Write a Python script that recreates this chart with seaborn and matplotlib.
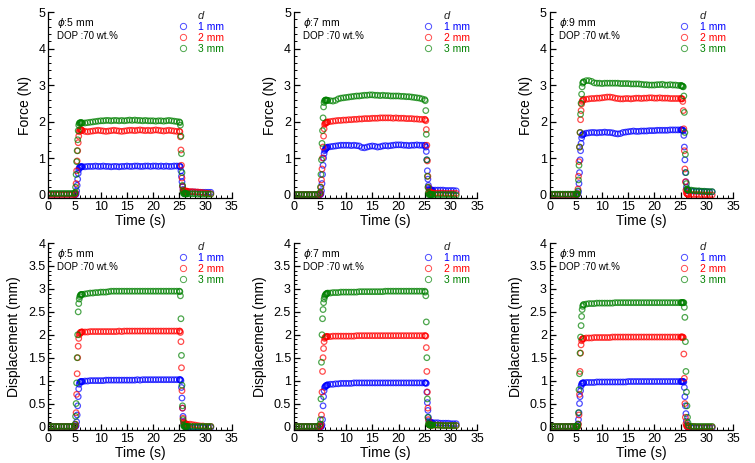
import numpy as np
import pandas as pd
import matplotlib
matplotlib.use("Agg")
import matplotlib.pyplot as plt
from matplotlib.ticker import MultipleLocator
from matplotlib.lines import Line2D
import seaborn as sns

sns.set_theme(style="ticks")
plt.rcParams['font.family'] = ['Liberation Sans', 'DejaVu Sans']
plt.rcParams['mathtext.fontset'] = 'dejavusans'

# ---------------- data ----------------
# time grid (s): baseline, rise, plateau, fall, tail
t_base = [0.0, 0.5, 1.0, 1.5, 2.0, 2.5, 3.0, 3.5, 4.0, 4.5]
t_rise = [5.0, 5.1, 5.2, 5.3, 5.4, 5.5, 5.6, 5.7, 5.8, 5.9, 6.0, 6.1, 6.2, 6.3, 6.4]
t_plat = [6.5, 7.0, 7.5, 8.0, 8.5, 9.0, 9.5, 10.0, 10.5, 11.0, 11.5, 12.0, 12.5,
          13.0, 13.5, 14.0, 14.5, 15.0, 15.5, 16.0, 16.5, 17.0, 17.5, 18.0, 18.5,
          19.0, 19.5, 20.0, 20.5, 21.0, 21.5, 22.0, 22.5, 23.0, 23.5, 24.0, 24.5]
t_fall = [25.0, 25.1, 25.2, 25.3, 25.4, 25.5, 25.6, 25.7, 25.8, 25.9, 26.0, 26.1, 26.2, 26.3, 26.4]
t_tail = [26.5, 27.0, 27.5, 28.0, 28.5, 29.0, 29.5, 30.0, 30.5, 31.0]

depths = ["1 mm", "2 mm", "3 mm"]
diameters = ["5", "7", "9"]

# ---- Force, phi 5 mm ----
F5_1 = ([0.01]*10,
        [0.0, 0.0, 0.0, 0.02, 0.1, 0.25, 0.42, 0.58, 0.68, 0.73, 0.75, 0.76, 0.76, 0.76, 0.76],
        [0.76, 0.76, 0.77, 0.77, 0.77, 0.78, 0.77, 0.77, 0.78, 0.77, 0.77, 0.76, 0.77, 0.77, 0.76, 0.77, 0.77, 0.78, 0.77,
         0.77, 0.78, 0.78, 0.77, 0.77, 0.78, 0.78, 0.77, 0.78, 0.78, 0.77, 0.78, 0.77, 0.78, 0.77, 0.77, 0.78, 0.78],
        [0.78, 0.77, 0.76, 0.65, 0.5, 0.35, 0.22, 0.14, 0.1, 0.09, 0.08, 0.08, 0.08, 0.08, 0.07],
        [0.07, 0.07, 0.07, 0.07, 0.06, 0.06, 0.06, 0.06, 0.06, 0.06])
F5_2 = ([0.0]*10,
        [0.0, 0.0, 0.05, 0.3, 0.65, 0.92, 1.2, 1.42, 1.6, 1.72, 1.76, 1.78, 1.78, 1.77, 1.76],
        [1.75, 1.73, 1.72, 1.73, 1.74, 1.75, 1.76, 1.75, 1.74, 1.73, 1.74, 1.75, 1.76, 1.75, 1.74, 1.73, 1.74, 1.75, 1.76,
         1.76, 1.75, 1.76, 1.77, 1.76, 1.75, 1.76, 1.75, 1.76, 1.77, 1.76, 1.75, 1.74, 1.75, 1.76, 1.75, 1.74, 1.73],
        [1.73, 1.72, 1.58, 1.22, 0.8, 0.45, 0.22, 0.12, 0.1, 0.1, 0.1, 0.09, 0.09, 0.09, 0.09],
        [0.09, 0.08, 0.08, 0.07, 0.07, 0.06, 0.05, 0.04, 0.03, 0.02])
F5_3 = ([0.03]*10,
        [0.03, 0.05, 0.2, 0.55, 0.9, 1.2, 1.5, 1.75, 1.9, 1.95, 1.96, 1.97, 1.97, 1.96, 1.96],
        [1.96, 1.96, 1.97, 1.98, 1.99, 2.0, 2.01, 2.02, 2.02, 2.03, 2.03, 2.02, 2.03, 2.03, 2.02, 2.03, 2.02, 2.03, 2.04,
         2.03, 2.04, 2.03, 2.03, 2.02, 2.03, 2.02, 2.02, 2.02, 2.01, 2.02, 2.02, 2.01, 2.02, 2.03, 2.02, 2.01, 2.0],
        [1.99, 1.97, 1.9, 1.6, 1.12, 0.6, 0.25, 0.08, 0.03, 0.02, 0.02, 0.02, 0.02, 0.02, 0.02],
        [0.02, 0.02, 0.02, 0.02, 0.01, 0.01, 0.01, 0.01, 0.01, 0.01])

# ---- Force, phi 7 mm ----
F7_1 = ([0.0]*10,
        [0.0, 0.0, 0.02, 0.1, 0.3, 0.55, 0.8, 1.0, 1.12, 1.2, 1.23, 1.25, 1.27, 1.28, 1.29],
        [1.3, 1.31, 1.32, 1.33, 1.34, 1.35, 1.35, 1.35, 1.35, 1.34, 1.35, 1.34, 1.33, 1.29, 1.28, 1.3, 1.32, 1.33, 1.32,
         1.3, 1.31, 1.33, 1.34, 1.33, 1.34, 1.35, 1.36, 1.36, 1.36, 1.35, 1.35, 1.34, 1.35, 1.35, 1.36, 1.35, 1.35],
        [1.35, 1.34, 1.3, 1.18, 0.95, 0.65, 0.42, 0.25, 0.17, 0.14, 0.13, 0.12, 0.12, 0.12, 0.12],
        [0.12, 0.12, 0.12, 0.12, 0.12, 0.11, 0.11, 0.11, 0.11, 0.1])
F7_2 = ([0.0]*10,
        [0.0, 0.05, 0.2, 0.4, 0.7, 1.0, 1.3, 1.6, 1.8, 1.92, 1.95, 1.96, 1.97, 1.98, 1.98],
        [1.99, 2.0, 2.01, 2.02, 2.03, 2.03, 2.04, 2.04, 2.05, 2.05, 2.06, 2.06, 2.07, 2.07, 2.08, 2.08, 2.08, 2.09, 2.09,
         2.09, 2.1, 2.1, 2.1, 2.1, 2.1, 2.09, 2.1, 2.09, 2.09, 2.09, 2.08, 2.08, 2.08, 2.07, 2.07, 2.06, 2.06],
        [2.06, 2.05, 2.02, 1.78, 1.35, 0.92, 0.5, 0.2, 0.08, 0.05, 0.05, 0.05, 0.05, 0.04, 0.04],
        [0.04, 0.04, 0.04, 0.04, 0.04, 0.03, 0.03, 0.03, 0.03, 0.03])
F7_3 = ([0.0]*10,
        [0.05, 0.2, 0.55, 0.95, 1.4, 1.75, 2.1, 2.4, 2.52, 2.57, 2.58, 2.59, 2.59, 2.58, 2.58],
        [2.58, 2.57, 2.56, 2.58, 2.62, 2.64, 2.65, 2.66, 2.67, 2.68, 2.69, 2.7, 2.7, 2.71, 2.72, 2.72, 2.73, 2.73, 2.72,
         2.72, 2.71, 2.72, 2.71, 2.71, 2.7, 2.7, 2.7, 2.7, 2.69, 2.69, 2.68, 2.68, 2.67, 2.66, 2.65, 2.64, 2.62],
        [2.6, 2.57, 2.3, 1.65, 0.95, 0.5, 0.2, 0.05, 0.0, 0.0, 0.0, 0.0, 0.0, 0.0, 0.0],
        [0.0, 0.0, 0.0, 0.0, 0.0, 0.0, 0.0, 0.0, 0.0, -0.02])

# ---- Force, phi 9 mm ----
F9_1 = ([0.0]*10,
        [0.0, 0.0, 0.0, 0.0, 0.02, 0.08, 0.3, 0.6, 0.95, 1.2, 1.4, 1.55, 1.62, 1.64, 1.65],
        [1.66, 1.68, 1.69, 1.7, 1.7, 1.69, 1.7, 1.7, 1.71, 1.7, 1.7, 1.69, 1.67, 1.66, 1.67, 1.7, 1.71, 1.72, 1.73,
         1.74, 1.73, 1.73, 1.74, 1.74, 1.74, 1.75, 1.75, 1.75, 1.76, 1.76, 1.76, 1.76, 1.76, 1.77, 1.77, 1.77, 1.77],
        [1.77, 1.77, 1.77, 1.77, 1.76, 1.75, 1.62, 1.3, 0.95, 0.6, 0.35, 0.2, 0.13, 0.11, 0.1],
        [0.1, 0.1, 0.09, 0.09, 0.09, 0.08, 0.08, 0.08, 0.07, 0.07])
F9_2 = ([0.0]*10,
        [0.0, 0.0, 0.0, 0.02, 0.15, 0.5, 0.9, 1.3, 1.7, 2.05, 2.3, 2.48, 2.55, 2.58, 2.6],
        [2.6, 2.61, 2.62, 2.63, 2.63, 2.64, 2.64, 2.65, 2.66, 2.67, 2.67, 2.66, 2.64, 2.63, 2.62, 2.62, 2.63, 2.63, 2.62,
         2.63, 2.64, 2.64, 2.63, 2.64, 2.64, 2.65, 2.65, 2.64, 2.64, 2.65, 2.64, 2.64, 2.64, 2.63, 2.63, 2.63, 2.63],
        [2.63, 2.63, 2.62, 2.62, 2.55, 2.3, 1.8, 1.2, 0.7, 0.35, 0.12, 0.04, 0.02, 0.01, 0.0],
        [0.0, 0.0, 0.0, 0.0, 0.0, -0.01, -0.01, -0.01, -0.01, -0.01])
F9_3 = ([0.01]*10,
        [0.01, 0.01, 0.01, 0.02, 0.1, 0.4, 0.8, 1.3, 1.7, 2.2, 2.5, 2.75, 2.95, 3.05, 3.08],
        [3.09, 3.12, 3.12, 3.1, 3.06, 3.05, 3.05, 3.04, 3.05, 3.05, 3.05, 3.05, 3.05, 3.05, 3.04, 3.04, 3.04, 3.04, 3.03,
         3.03, 3.03, 3.03, 3.02, 3.01, 3.01, 3.0, 3.0, 3.0, 3.01, 3.01, 3.02, 3.0, 3.0, 3.01, 3.0, 3.0, 2.99],
        [2.99, 2.98, 2.98, 2.97, 2.96, 2.95, 2.7, 2.25, 1.7, 1.1, 0.6, 0.3, 0.15, 0.13, 0.12],
        [0.12, 0.12, 0.11, 0.1, 0.1, 0.09, 0.09, 0.08, 0.08, 0.08])

# ---- Displacement, phi 5 mm ----
D5_1 = ([0.0]*10,
        [0.0, 0.0, 0.0, 0.02, 0.1, 0.25, 0.45, 0.65, 0.82, 0.92, 0.96, 0.97, 0.98, 0.98, 0.98],
        [0.98, 0.99, 0.99, 1.0, 1.0, 1.0, 1.0, 1.0, 1.0, 1.01, 1.01, 1.01, 1.01, 1.01, 1.01, 1.01, 1.01, 1.01, 1.01,
         1.01, 1.01, 1.02, 1.01, 1.02, 1.02, 1.02, 1.02, 1.02, 1.02, 1.02, 1.02, 1.02, 1.02, 1.02, 1.02, 1.02, 1.02],
        [1.02, 1.02, 1.02, 1.0, 0.85, 0.62, 0.4, 0.22, 0.1, 0.05, 0.02, 0.0, -0.01, -0.01, -0.02],
        [-0.02, -0.02, -0.02, -0.02, -0.02, -0.02, -0.02, -0.02, -0.02, -0.02])
D5_2 = ([0.0]*10,
        [0.0, 0.0, 0.05, 0.3, 0.7, 1.15, 1.5, 1.75, 1.92, 2.0, 2.03, 2.05, 2.05, 2.06, 2.06],
        [2.06, 2.06, 2.06, 2.07, 2.07, 2.07, 2.07, 2.07, 2.07, 2.07, 2.07, 2.07, 2.07, 2.07, 2.08, 2.07, 2.08, 2.08, 2.08,
         2.08, 2.08, 2.08, 2.08, 2.08, 2.08, 2.08, 2.08, 2.08, 2.08, 2.08, 2.08, 2.08, 2.08, 2.08, 2.08, 2.08, 2.08],
        [2.08, 2.08, 2.05, 1.85, 1.28, 0.78, 0.4, 0.18, 0.1, 0.07, 0.06, 0.05, 0.05, 0.05, 0.05],
        [0.05, 0.05, 0.04, 0.03, 0.02, 0.01, 0.01, 0.0, 0.0, 0.0])
D5_3 = ([0.0]*10,
        [0.0, 0.05, 0.22, 0.5, 0.95, 1.5, 2.0, 2.5, 2.68, 2.78, 2.83, 2.86, 2.87, 2.88, 2.88],
        [2.88, 2.89, 2.9, 2.91, 2.91, 2.92, 2.92, 2.93, 2.93, 2.93, 2.94, 2.95, 2.95, 2.95, 2.95, 2.95, 2.95, 2.95, 2.95,
         2.95, 2.95, 2.95, 2.95, 2.95, 2.95, 2.95, 2.95, 2.95, 2.95, 2.95, 2.95, 2.95, 2.95, 2.95, 2.95, 2.95, 2.95],
        [2.95, 2.94, 2.85, 2.35, 1.55, 0.9, 0.45, 0.15, 0.03, 0.0, 0.0, 0.0, 0.0, 0.0, 0.0],
        [0.0, 0.0, 0.0, 0.0, 0.0, 0.0, 0.0, 0.0, 0.0, 0.0])

# ---- Displacement, phi 7 mm ----
D7_1 = ([0.0]*10,
        [0.0, 0.0, 0.0, 0.0, 0.03, 0.15, 0.45, 0.65, 0.78, 0.85, 0.87, 0.88, 0.89, 0.9, 0.9],
        [0.91, 0.92, 0.92, 0.93, 0.93, 0.94, 0.94, 0.94, 0.94, 0.94, 0.95, 0.95, 0.95, 0.95, 0.95, 0.95, 0.95, 0.95, 0.95,
         0.95, 0.95, 0.95, 0.95, 0.95, 0.95, 0.95, 0.95, 0.95, 0.95, 0.95, 0.95, 0.95, 0.95, 0.95, 0.95, 0.95, 0.95],
        [0.95, 0.95, 0.95, 0.94, 0.75, 0.52, 0.35, 0.2, 0.12, 0.09, 0.08, 0.08, 0.08, 0.08, 0.08],
        [0.08, 0.08, 0.08, 0.07, 0.07, 0.07, 0.07, 0.06, 0.06, 0.06])
D7_2 = ([0.0]*10,
        [0.0, 0.0, 0.05, 0.25, 0.75, 1.2, 1.5, 1.7, 1.85, 1.92, 1.94, 1.95, 1.96, 1.96, 1.96],
        [1.96, 1.96, 1.97, 1.97, 1.97, 1.97, 1.97, 1.97, 1.97, 1.97, 1.97, 1.98, 1.98, 1.98, 1.98, 1.98, 1.98, 1.98, 1.98,
         1.98, 1.98, 1.98, 1.98, 1.98, 1.98, 1.98, 1.98, 1.98, 1.98, 1.98, 1.98, 1.98, 1.98, 1.98, 1.98, 1.98, 1.98],
        [1.98, 1.98, 1.97, 1.72, 1.2, 0.75, 0.4, 0.15, 0.05, 0.03, 0.03, 0.03, 0.03, 0.03, 0.03],
        [0.03, 0.03, 0.03, 0.03, 0.02, 0.02, 0.02, 0.02, 0.02, 0.02])
D7_3 = ([0.0]*10,
        [0.05, 0.15, 0.6, 1.4, 2.0, 2.35, 2.55, 2.7, 2.78, 2.83, 2.86, 2.88, 2.89, 2.9, 2.9],
        [2.91, 2.91, 2.92, 2.92, 2.92, 2.93, 2.93, 2.93, 2.93, 2.93, 2.93, 2.93, 2.94, 2.94, 2.94, 2.94, 2.94, 2.94, 2.94,
         2.94, 2.94, 2.94, 2.95, 2.95, 2.95, 2.95, 2.95, 2.95, 2.95, 2.95, 2.95, 2.95, 2.95, 2.95, 2.95, 2.95, 2.95],
        [2.95, 2.93, 2.85, 2.28, 1.5, 0.6, 0.2, 0.06, 0.04, 0.03, 0.03, 0.03, 0.03, 0.03, 0.03],
        [0.03, 0.03, 0.03, 0.02, 0.02, 0.02, 0.02, 0.02, 0.02, 0.02])

# ---- Displacement, phi 9 mm ----
D9_1 = ([0.0]*10,
        [0.0, 0.0, 0.0, 0.0, 0.05, 0.15, 0.3, 0.5, 0.65, 0.78, 0.88, 0.92, 0.94, 0.95, 0.95],
        [0.95, 0.96, 0.96, 0.96, 0.96, 0.97, 0.97, 0.97, 0.97, 0.97, 0.97, 0.97, 0.97, 0.97, 0.97, 0.97, 0.97, 0.98, 0.98,
         0.98, 0.98, 0.98, 0.98, 0.98, 0.98, 0.98, 0.98, 0.98, 0.98, 0.98, 0.98, 0.98, 0.98, 0.98, 0.98, 0.98, 0.98],
        [0.98, 0.98, 0.98, 0.98, 0.98, 0.98, 0.97, 0.85, 0.65, 0.45, 0.28, 0.12, 0.03, -0.01, -0.02],
        [-0.03, -0.03, -0.03, -0.03, -0.03, -0.03, -0.03, -0.03, -0.03, -0.03])
D9_2 = ([0.0]*10,
        [0.0, 0.0, 0.0, 0.0, 0.0, 0.05, 0.25, 0.7, 1.2, 1.6, 1.78, 1.87, 1.9, 1.91, 1.92],
        [1.92, 1.93, 1.93, 1.93, 1.94, 1.94, 1.94, 1.94, 1.94, 1.94, 1.94, 1.95, 1.95, 1.95, 1.95, 1.95, 1.95, 1.95, 1.95,
         1.95, 1.95, 1.95, 1.95, 1.95, 1.95, 1.95, 1.95, 1.95, 1.95, 1.95, 1.95, 1.95, 1.95, 1.95, 1.95, 1.95, 1.95],
        [1.95, 1.95, 1.95, 1.95, 1.95, 1.94, 1.58, 1.05, 0.5, 0.2, 0.06, 0.02, 0.0, 0.0, 0.0],
        [0.0, 0.0, 0.0, -0.01, -0.01, -0.01, -0.01, -0.01, -0.01, -0.01])
D9_3 = ([0.0]*10,
        [0.0, 0.0, 0.0, 0.0, 0.05, 0.3, 0.8, 1.15, 1.6, 1.95, 2.2, 2.4, 2.55, 2.62, 2.65],
        [2.66, 2.67, 2.68, 2.68, 2.68, 2.69, 2.69, 2.69, 2.69, 2.69, 2.69, 2.69, 2.7, 2.7, 2.7, 2.7, 2.7, 2.7, 2.7,
         2.7, 2.7, 2.7, 2.7, 2.7, 2.7, 2.7, 2.7, 2.7, 2.7, 2.7, 2.7, 2.7, 2.7, 2.7, 2.7, 2.7, 2.7],
        [2.7, 2.7, 2.7, 2.7, 2.7, 2.7, 2.7, 2.6, 2.38, 1.85, 1.2, 0.75, 0.45, 0.2, 0.08],
        [0.02, 0.0, 0.0, 0.0, 0.0, 0.0, 0.0, 0.0, 0.0, 0.0])

force_series = {"5": [F5_1, F5_2, F5_3], "7": [F7_1, F7_2, F7_3], "9": [F9_1, F9_2, F9_3]}
disp_series = {"5": [D5_1, D5_2, D5_3], "7": [D7_1, D7_2, D7_3], "9": [D9_1, D9_2, D9_3]}

colors = {"1 mm": "#0000FF", "2 mm": "#FF0000", "3 mm": "#008000"}

time = np.concatenate([t_base, t_rise, t_plat, t_fall, t_tail])


def make_df(series_list):
    frames = []
    for d, seg in zip(depths, series_list):
        vals = np.concatenate([np.asarray(s, dtype=float) for s in seg])
        frames.append(pd.DataFrame({"t": time, "v": vals, "d": d}))
    return pd.concat(frames, ignore_index=True)


# ---------------- figure ----------------
fig = plt.figure(figsize=(7.55, 4.63), dpi=100)

lefts = [0.064, 0.389, 0.728]
width = 0.243
top_row = (0.572, 0.402)
bot_row = (0.071, 0.404)

rows = [
    ("Force (N)", force_series, top_row, (-0.1, 5), 1, 0.2),
    ("Displacement (mm)", disp_series, bot_row, (-0.08, 4), 0.5, 0.1),
]

for ylabel, series, (bottom, height), ylim, ymaj, ymin in rows:
    for left, dia in zip(lefts, diameters):
        ax = fig.add_axes([left, bottom, width, height])
        df = make_df(series[dia])
        sns.scatterplot(data=df, x="t", y="v", hue="d", hue_order=depths,
                        palette=colors, s=16, marker="o", linewidth=0.9,
                        legend=False, ax=ax)
        pts = ax.collections[-1]
        fc = pts.get_facecolors().copy()
        fc[:, 3] = 0.7
        pts.set_edgecolors(fc)
        pts.set_facecolors("none")

        ax.set_xlim(0, 35)
        ax.set_ylim(*ylim)
        ax.xaxis.set_major_locator(MultipleLocator(5))
        ax.xaxis.set_minor_locator(MultipleLocator(1))
        ax.yaxis.set_major_locator(MultipleLocator(ymaj))
        ax.yaxis.set_minor_locator(MultipleLocator(ymin))
        ax.yaxis.set_major_formatter(matplotlib.ticker.FuncFormatter(lambda v, p: f"{v:g}"))
        ax.tick_params(which="major", direction="in", length=4, width=0.9,
                       labelsize=9, pad=2, color="black", labelcolor="black")
        ax.tick_params(which="minor", direction="in", length=2, width=0.7, color="black")
        for sp in ["top", "right"]:
            ax.spines[sp].set_visible(False)
        for sp in ["left", "bottom"]:
            ax.spines[sp].set_color("black")
            ax.spines[sp].set_linewidth(0.9)
        ax.set_xlabel("Time (s)", fontsize=10, labelpad=1, color="black")
        ax.set_ylabel(ylabel, fontsize=10, labelpad=5, color="black")

        ax.text(0.05, 0.94, r"$\it{\phi}$:" + dia + " mm", transform=ax.transAxes,
                fontsize=7.5, va="center", ha="left", color="black")
        ax.text(0.05, 0.87, "DOP :70 wt.%", transform=ax.transAxes,
                fontsize=7, va="center", ha="left", color="black")

        handles = [Line2D([], [], linestyle="none", marker="o", markersize=4.5,
                          markerfacecolor="none", markeredgecolor=colors[d],
                          markeredgewidth=0.7, alpha=0.7) for d in depths]
        leg = ax.legend(handles, depths, title="d", loc="upper right",
                        bbox_to_anchor=(1.0, 1.045), frameon=False,
                        fontsize=7.5, title_fontsize=8, handletextpad=1.0,
                        handlelength=1.0, labelspacing=0.1, borderpad=0.2)
        leg.get_title().set_fontstyle("italic")
        for txt, d in zip(leg.get_texts(), depths):
            txt.set_color(colors[d])

fig.savefig("out.png", dpi=100)
